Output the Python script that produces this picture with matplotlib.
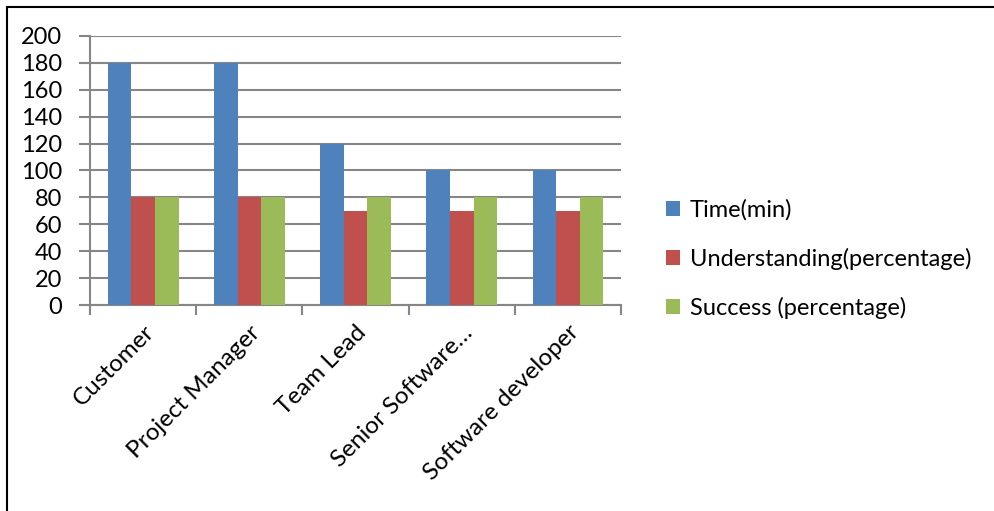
import matplotlib.pyplot as plt
import numpy as np
from matplotlib.patches import Rectangle

plt.rcParams['font.family'] = ['Lato', 'DejaVu Sans']

categories = ['Customer', 'Project Manager', 'Team Lead', 'Senior Software…', 'Software developer']
time_min = [180, 180, 120, 100, 100]
understanding = [80, 80, 70, 70, 70]
success = [80, 80, 80, 80, 80]
series = ['Time(min)', 'Understanding(percentage)', 'Success (percentage)']
colors = ['#4F81BD', '#C0504D', '#9BBB59']

W, H = 995, 511
fig = plt.figure(figsize=(W / 100, H / 100), dpi=100)
# plot area in pixels: x 90..621, y 36..305
ax = fig.add_axes([90 / W, 1 - 305 / H, (621 - 90) / W, (305 - 36) / H])

x = np.arange(len(categories))
bw = 1 / 4.5
for i, (vals, name, c) in enumerate(zip([time_min, understanding, success], series, colors)):
    ax.bar(x + (i - 1) * bw, vals, width=bw, color=c, label=name, zorder=3)

ax.set_xlim(-0.5, len(categories) - 0.5)
ax.set_ylim(0, 200)
ax.set_yticks(np.arange(0, 201, 20))
ax.yaxis.grid(True, color='#868686', linewidth=1.5, zorder=0)
ax.set_axisbelow(True)

for s in ['top', 'right']:
    ax.spines[s].set_visible(False)
for s in ['left', 'bottom']:
    ax.spines[s].set_color('#868686')
    ax.spines[s].set_linewidth(1.5)

ax.tick_params(axis='y', length=8, width=1.5, color='#868686', labelsize=17, pad=12)
ax.set_xticks(np.arange(-0.5, len(categories), 1))
ax.set_xticklabels([])
ax.tick_params(axis='x', length=7, width=1.5, color='#868686')
ax.set_xticks(x, minor=True)
ax.set_xticklabels(categories, minor=True, rotation=45, ha='right', va='top',
                   rotation_mode='anchor', fontsize=17.5)
ax.tick_params(axis='x', which='minor', length=0, pad=12)

ax.legend(loc='center left', bbox_to_anchor=(645 / W, 1 - 259 / H),
          bbox_transform=fig.transFigure, frameon=False, fontsize=17,
          handlelength=0.6, handleheight=0.6, handletextpad=0.4,
          labelspacing=1.15)

fig.patches.append(Rectangle((7 / W, -0.1), 1.2, 1 - 7 / H + 0.1,
                             transform=fig.transFigure, fill=False,
                             edgecolor='black', linewidth=1.5))

fig.savefig('out.png', dpi=100)
